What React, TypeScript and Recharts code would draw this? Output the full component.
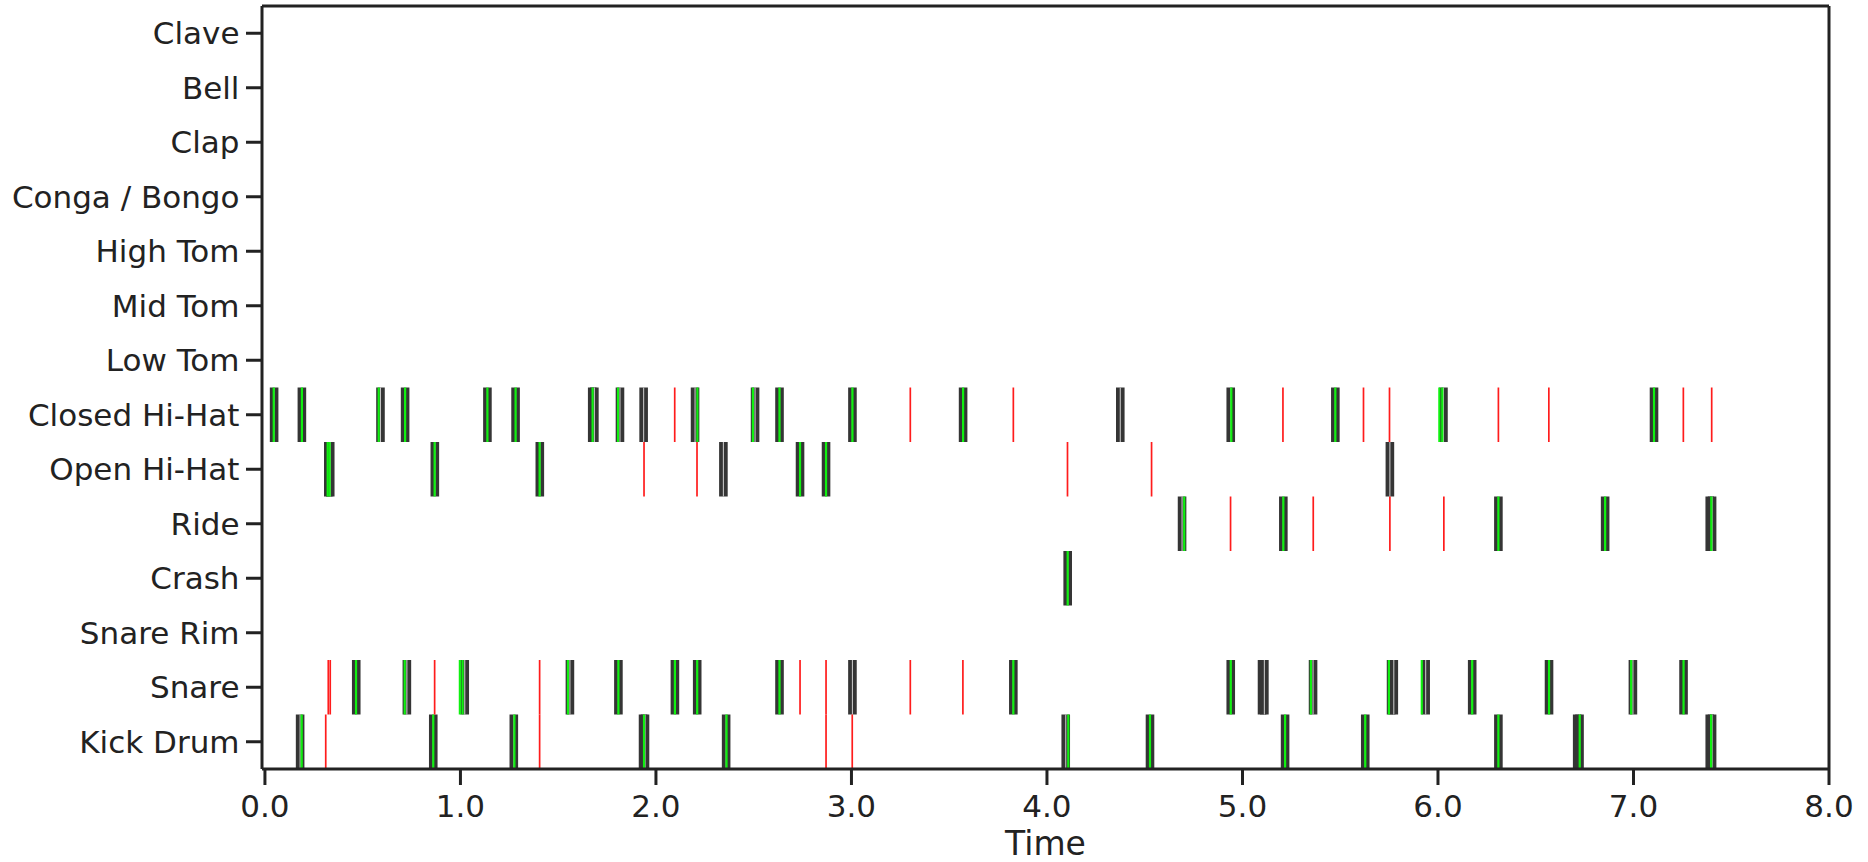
import React from 'react';
import { ComposedChart, XAxis, YAxis, Scatter, ReferenceLine } from 'recharts';

// Instrument rows, bottom (0) to top (13)
const INSTRUMENTS = [
  'Kick Drum', 'Snare', 'Snare Rim', 'Crash', 'Ride', 'Open Hi-Hat', 'Closed Hi-Hat',
  'Low Tom', 'Mid Tom', 'High Tom', 'Conga / Bongo', 'Clap', 'Bell', 'Clave',
];
const X_TICKS = [0, 1, 2, 3, 4, 5, 6, 7, 8];
const Y_TICKS = [0, 1, 2, 3, 4, 5, 6, 7, 8, 9, 10, 11, 12, 13];

// Onset times in seconds: ground truth, correct detections (green), false detections (red)
const kickTruth = [0.180, 0.861, 1.273, 1.934, 1.944, 2.359, 4.096, 4.527, 5.218, 5.628, 6.309, 6.712, 6.724, 7.390, 7.402];
const kickHit = [0.188, 0.861, 1.276, 1.939, 2.361, 4.109, 4.527, 5.218, 5.628, 6.309, 6.725, 7.397];
const kickFalse = [0.311, 1.405, 2.870, 3.004];

const snareTruth = [0.467, 0.726, 1.022, 1.560, 1.808, 2.097, 2.211, 2.632, 3.005, 3.828, 4.940, 5.100, 5.112, 5.361, 5.760, 5.774, 5.937, 6.175, 6.568, 6.997, 7.256];
const snareHit = [0.466, 0.715, 0.997, 1.011, 1.550, 1.808, 2.097, 2.211, 2.632, 3.828, 4.940, 5.350, 5.749, 5.917, 6.175, 6.568, 6.988, 7.256];
const snareFalse = [0.324, 0.334, 0.868, 1.405, 2.737, 2.870, 3.301, 3.570];

const crashTruth = [4.106];
const crashHit = [4.106];
const crashFalse: number[] = [];

const rideTruth = [4.691, 5.209, 6.309, 6.855, 7.390, 7.402];
const rideHit = [4.702, 5.209, 6.309, 6.855, 7.398];
const rideFalse = [4.939, 5.362, 5.754, 6.030];

const openHatTruth = [0.324, 0.334, 0.869, 1.406, 2.345, 2.737, 2.870, 5.754];
const openHatHit = [0.321, 0.331, 0.868, 1.405, 2.737, 2.870];
const openHatFalse = [1.939, 2.210, 4.105, 4.535];

const closedHatTruth = [0.047, 0.189, 0.591, 0.717, 1.138, 1.282, 1.674, 1.685, 1.816, 1.937, 2.200, 2.507, 2.632, 3.005, 3.571, 4.375, 4.940, 5.475, 6.028, 7.105];
const closedHatHit = [0.045, 0.189, 0.582, 0.717, 1.138, 1.282, 1.676, 1.806, 2.212, 2.496, 2.632, 3.005, 3.571, 4.943, 5.475, 6.007, 6.022, 7.105];
const closedHatFalse = [2.096, 3.301, 3.828, 5.207, 5.619, 5.752, 6.309, 6.567, 7.255, 7.400];

const ROWS = [
  { row: 0, truth: kickTruth, hit: kickHit, miss: kickFalse },
  { row: 1, truth: snareTruth, hit: snareHit, miss: snareFalse },
  { row: 3, truth: crashTruth, hit: crashHit, miss: crashFalse },
  { row: 4, truth: rideTruth, hit: rideHit, miss: rideFalse },
  { row: 5, truth: openHatTruth, hit: openHatHit, miss: openHatFalse },
  { row: 6, truth: closedHatTruth, hit: closedHatHit, miss: closedHatFalse },
];

const points = ROWS.flatMap((r) => r.truth.map((t) => ({ t, row: r.row })));

const FONT = 'DejaVu Sans';
const INK = '#222222';

function seg(t: number, row: number) {
  return [
    { x: t, y: row - 0.5 },
    { x: t, y: row + 0.5 },
  ];
}

export default function App() {
  const truthLines: React.ReactNode[] = [];
  const hitLines: React.ReactNode[] = [];
  const missLines: React.ReactNode[] = [];
  ROWS.forEach((r) => {
    r.truth.forEach((t, i) => {
      truthLines.push(
        <ReferenceLine key={`td-${r.row}-${i}`} segment={seg(t, r.row)} stroke="#353535" strokeWidth={8.6} ifOverflow="visible" />
      );
      truthLines.push(
        <ReferenceLine key={`tc-${r.row}-${i}`} segment={seg(t, r.row)} stroke="#c4c4c4" strokeWidth={1.1} ifOverflow="visible" />
      );
    });
    r.hit.forEach((t, i) => {
      hitLines.push(
        <ReferenceLine key={`h-${r.row}-${i}`} segment={seg(t, r.row)} stroke="#10f010" strokeWidth={2.2} ifOverflow="visible" />
      );
    });
    r.miss.forEach((t, i) => {
      missLines.push(
        <ReferenceLine key={`m-${r.row}-${i}`} segment={seg(t, r.row)} stroke="#ff1c1c" strokeWidth={1.7} ifOverflow="visible" />
      );
    });
  });

  return (
    <div style={{ position: 'absolute', left: 0, top: 0, background: '#fff' }}>
      <ComposedChart width={1868} height={862} data={points} margin={{ top: 6, right: 39, bottom: 0, left: 0 }}>
        <XAxis
          type="number"
          dataKey="t"
          domain={[-0.015, 8]}
          allowDataOverflow
          ticks={X_TICKS}
          interval={0}
          tickFormatter={(v: number) => v.toFixed(1)}
          height={93}
          tickSize={16}
          tickMargin={10}
          axisLine={{ stroke: INK, strokeWidth: 3 }}
          tickLine={{ stroke: INK, strokeWidth: 3 }}
          tick={{ fill: INK, fontSize: 31, fontFamily: FONT }}
          label={{ value: 'Time', position: 'insideBottom', offset: 7, fill: INK, fontSize: 33, fontFamily: FONT }}
        />
        <YAxis
          type="number"
          dataKey="row"
          domain={[-0.5, 13.5]}
          allowDataOverflow
          ticks={Y_TICKS}
          interval={0}
          tickFormatter={(v: number) => INSTRUMENTS[v] ?? ''}
          width={262}
          tickSize={16}
          tickMargin={6.5}
          axisLine={{ stroke: INK, strokeWidth: 3 }}
          tickLine={{ stroke: INK, strokeWidth: 3 }}
          tick={{ fill: INK, fontSize: 31, fontFamily: FONT }}
        />
        <Scatter dataKey="row" isAnimationActive={false} shape={() => <g />} legendType="none" />
        {truthLines}
        {hitLines}
        {missLines}
        <ReferenceLine y={13.5} stroke={INK} strokeWidth={3} ifOverflow="visible" />
        <ReferenceLine x={8} stroke={INK} strokeWidth={3} ifOverflow="visible" />
      </ComposedChart>
    </div>
  );
}
